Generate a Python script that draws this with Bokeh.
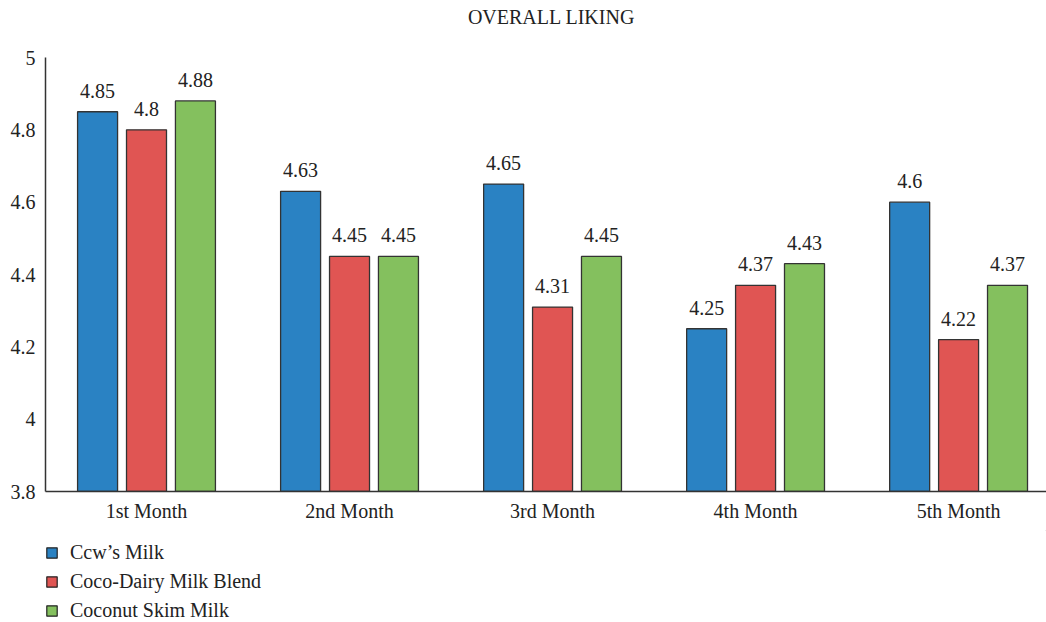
from bokeh.plotting import figure
from bokeh.models import Range1d, FixedTicker, Legend, LegendItem, ColumnDataSource, LabelSet
from bokeh.core.properties import value
from bokeh.layouts import column
from bokeh.transform import dodge
from bokeh.embed import file_html
from bokeh.resources import INLINE

title_text = "OVERALL LIKING"
months = ["1st Month", "2nd Month", "3rd Month", "4th Month", "5th Month"]
series_names = ["Ccw\u2019s Milk", "Coco-Dairy Milk Blend", "Coconut Skim Milk"]
cow = [4.85, 4.63, 4.65, 4.25, 4.6]
blend = [4.8, 4.45, 4.31, 4.37, 4.22]
skim = [4.88, 4.45, 4.45, 4.43, 4.37]
y_ticks = [3.8, 4.0, 4.2, 4.4, 4.6, 4.8, 5.0]
y_tick_labels = {3.8: "3.8", 4.0: "4", 4.2: "4.2", 4.4: "4.4", 4.6: "4.6", 4.8: "4.8", 5.0: "5"}

colors = ["#2A82C3", "#E05553", "#84C05E"]
FONT = "Liberation Serif"
FS = "20px"
TXT = "#222222"

xs = list(range(len(months)))
src = ColumnDataSource(dict(
    x=xs, cow=cow, blend=blend, skim=skim,
    cow_t=[f"{v:g}" for v in cow],
    blend_t=[f"{v:g}" for v in blend],
    skim_t=[f"{v:g}" for v in skim],
))

# title strip
TH = 40
pt = figure(width=1046, height=TH, output_backend="svg", toolbar_location=None,
            x_range=Range1d(45, 1046), y_range=Range1d(0, TH),
            x_axis_location=None, y_axis_location=None,
            min_border_left=0, min_border_right=0, min_border_top=0, min_border_bottom=0)
pt.grid.visible = False
pt.outline_line_color = None
pt.text(x=[551], y=[TH - 16.5], text=[title_text], text_align="center", text_baseline="alphabetic",
        text_font=value(FONT), text_font_size=FS, text_color=TXT)

# main chart
p = figure(width=1046, height=622 - 92 - TH, output_backend="svg", toolbar_location=None,
           x_range=Range1d(-0.4975, 4.433), y_range=Range1d(3.8, 5.0),
           min_border_left=45, min_border_right=0, min_border_top=57 - TH, min_border_bottom=39)
p.outline_line_color = None
p.xgrid.visible = False
p.ygrid.visible = False

offsets = [-0.241, 0.0, 0.241]
fields = ["cow", "blend", "skim"]
for f, off, c in zip(fields, offsets, colors):
    p.vbar(x=dodge("x", off), top=f, bottom=3.8, width=0.197, source=src,
           fill_color=c, line_color="#333333", line_width=1.3)
    lbl = LabelSet(x=dodge("x", off), y=f, text=f + "_t", source=src,
                   text_align="center", text_baseline="alphabetic", y_offset=14,
                   text_font=FONT, text_font_size=FS, text_color=TXT)
    p.add_layout(lbl)

p.xaxis.ticker = FixedTicker(ticks=xs)
p.xaxis.major_label_overrides = {i: m for i, m in enumerate(months)}
p.xaxis.major_tick_line_color = None
p.xaxis.minor_tick_line_color = None
p.xaxis.axis_line_color = "#333333"
p.xaxis.axis_line_width = 1.5
p.xaxis.major_label_text_font = FONT
p.xaxis.major_label_text_font_size = FS
p.xaxis.major_label_text_color = TXT
p.xaxis.major_label_standoff = 2

p.yaxis.ticker = FixedTicker(ticks=y_ticks)
p.yaxis.major_label_overrides = y_tick_labels
p.yaxis.major_tick_line_color = None
p.yaxis.minor_tick_line_color = None
p.yaxis.axis_line_color = "#333333"
p.yaxis.axis_line_width = 1.5
p.yaxis.major_label_text_font = FONT
p.yaxis.major_label_text_font_size = FS
p.yaxis.major_label_text_color = TXT
p.yaxis.major_label_standoff = 4

# legend strip below the chart
pl = figure(width=1046, height=92, output_backend="svg", toolbar_location=None,
            x_range=Range1d(0, 1), y_range=Range1d(0, 1),
            x_axis_location=None, y_axis_location=None,
            min_border_left=0, min_border_right=0, min_border_top=0, min_border_bottom=0)
pl.grid.visible = False
pl.outline_line_color = None
dummies = [pl.vbar(x=[10], top=[10], bottom=[9], width=0.1, fill_color=c,
                   line_color="#222222", line_width=1.2) for c in colors]
legend = Legend(items=[LegendItem(label=n, renderers=[r]) for n, r in zip(series_names, dummies)],
                orientation="vertical", location=(0, 0),
                label_text_font=FONT, label_text_font_size=FS, label_text_color=TXT,
                glyph_width=13, glyph_height=13, label_standoff=12, spacing=6,
                padding=0, margin=0, border_line_color=None, background_fill_alpha=0)
pl.add_layout(legend, "center")

open("out.html", "w").write(file_html(column(pt, p, pl), INLINE))
